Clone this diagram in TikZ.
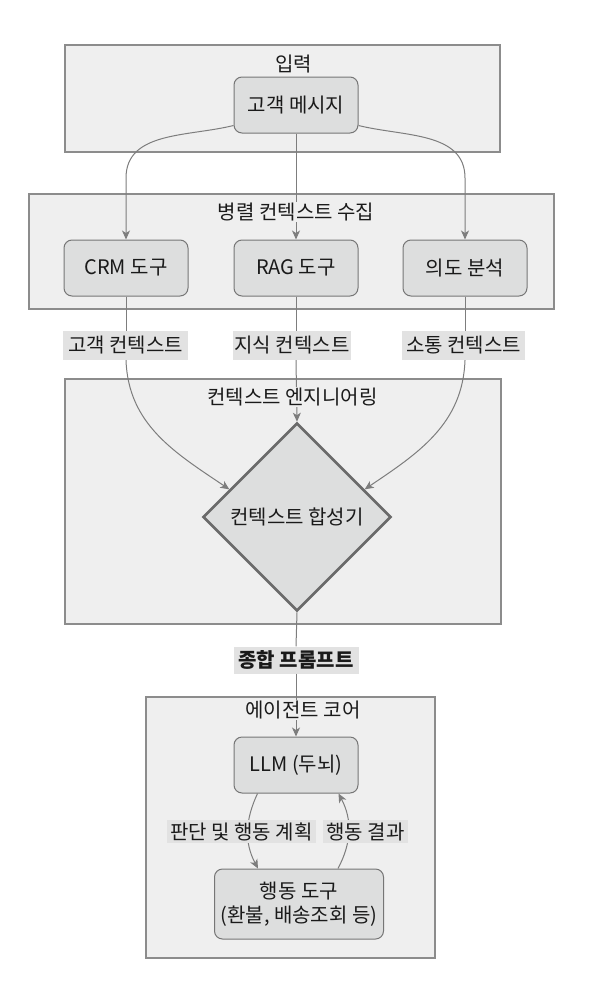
\documentclass[tikz,border=0pt]{standalone}
\usepackage{fontspec}
\setmainfont{Noto Sans CJK KR}
\usetikzlibrary{shapes.geometric,arrows.meta,calc}
\definecolor{clfill}{RGB}{239,239,239}
\definecolor{cldraw}{RGB}{140,140,140}
\definecolor{ndfill}{RGB}{221,222,222}
\definecolor{nddraw}{RGB}{118,118,118}
\definecolor{lbfill}{RGB}{226,226,226}
\definecolor{edcol}{RGB}{125,125,125}
\definecolor{txcol}{RGB}{26,26,26}
\begin{document}
\begin{tikzpicture}[x=1pt,y=-1pt,
  font=\fontsize{20}{23}\selectfont, text=txcol,
  cluster/.style={draw=cldraw, fill=clfill, line width=1.4pt, rectangle, inner sep=0pt},
  ctitle/.style={fill=clfill, inner sep=1pt},
  proc/.style={draw=nddraw, fill=ndfill, line width=1pt, rounded corners=8pt, minimum width=124pt, minimum height=56pt, inner sep=2pt, align=center},
  elabel/.style={fill=lbfill, inner sep=0pt, minimum height=29pt},
  edge/.style={draw=edcol, line width=1pt},
  arr/.style={edge, -{Stealth[length=9pt,width=8pt,inset=2.5pt]}}
]
\useasboundingbox (0,0) rectangle (608,988);

% clusters
\node[cluster, minimum width=435pt, minimum height=107pt] (cin) at (282.5,98.5) {};
\node[cluster, minimum width=525pt, minimum height=115pt] (cpar) at (291.5,251.5) {};
\node[cluster, minimum width=436pt, minimum height=245pt] (ceng) at (283,501.5) {};
\node[cluster, minimum width=289pt, minimum height=261pt] (cag) at (290.5,827.5) {};

% nodes
\node[proc] (msg) at (296,105) {고객 메시지};
\node[proc] (crm) at (126,268) {CRM 도구};
\node[proc] (rag) at (296,268) {RAG 도구};
\node[proc] (intent) at (465,268) {의도 분석};
\node[diamond, draw=nddraw!90!black, fill=ndfill, line width=2.6pt, minimum width=188pt, minimum height=188pt, inner sep=0pt] (syn) at (297,517) {컨텍스트 합성기};
\node[proc] (llm) at (296,765) {LLM (두뇌)};
\node[proc, minimum width=169pt, minimum height=70pt, font=\fontsize{20}{24}\selectfont] (act) at (299,904) {행동 도구\\(환불, 배송조회 등)};

% edge labels
\node[elabel, minimum width=125pt] (l1) at (125.5,345.5) {고객 컨텍스트};
\node[elabel, minimum width=118pt] (l2) at (292,345.5) {지식 컨텍스트};
\node[elabel, minimum width=123pt] (l3) at (463.5,345.5) {소통 컨텍스트};
\node[elabel, minimum width=125pt, minimum height=27pt, font=\fontsize{20}{23}\selectfont\bfseries] (l4) at (296,660) {종합 프롬프트};

% bends
\coordinate (bl) at (126,178);
\coordinate (br) at (465,178);

% edges
\draw[arr] ([yshift=8pt]msg.south west) to[out=194,in=90] (bl) -- (crm.north);
\draw[arr] (msg.south) -- (rag.north);
\draw[arr] ([yshift=8pt]msg.south east) to[out=-14,in=90] (br) -- (intent.north);

\draw[edge] (crm.south) -- (crm.south |- l1.north);
\draw[edge] (rag.south) -- (rag.south |- l2.north);
\draw[edge] (intent.south) -- (intent.south |- l3.north);

\draw[arr] (crm.south |- l1.south) to[out=-88,in=146] ($(syn.north west)!0.42!(syn.west)$);
\draw[arr] (rag.south |- l2.south) -- (syn.north);
\draw[arr] (intent.south |- l3.south) to[out=-92,in=34] ($(syn.north east)!0.42!(syn.east)$);

\draw[edge] (syn.south) -- (l4.north);
\draw[arr] (l4.south) -- (llm.north);

\draw[arr] ([xshift=24pt]llm.south west) to[out=-115,in=118] ([xshift=44pt]act.north west);
\draw[arr] ([xshift=-46pt]act.north east) to[out=62,in=-62] ([xshift=-20pt]llm.south east);

% loop labels on top of edges
\node[elabel, minimum width=149pt, minimum height=23pt] (l5) at (241.5,831.5) {판단 및 행동 계획};
\node[elabel, minimum width=85pt, minimum height=23pt] (l6) at (365.5,831.5) {행동 결과};

% cluster titles (cover edges)
\node[ctitle] (tin) at (293.5,64) {입력};
\node[ctitle] (tpar) at (296,212) {병렬 컨텍스트 수집};
\node[ctitle] (teng) at (292.5,397) {컨텍스트 엔지니어링};
\node[ctitle] (tag) at (303,710) {에이전트 코어};
\end{tikzpicture}
\end{document}
